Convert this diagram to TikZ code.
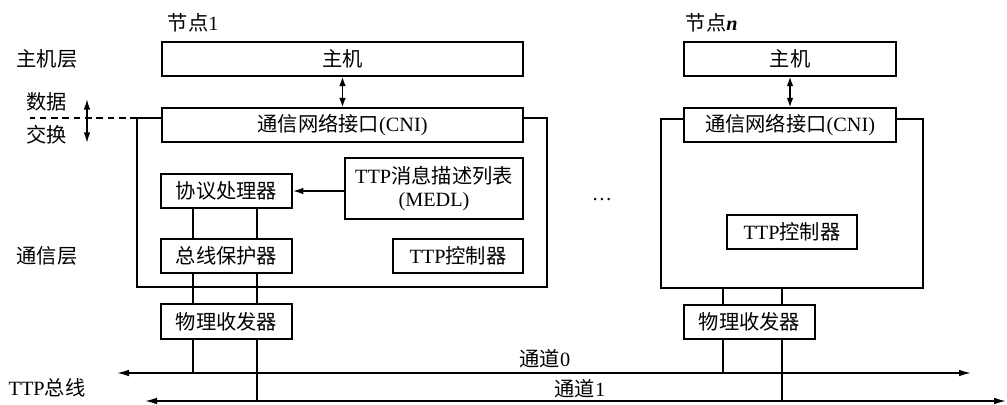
\documentclass[tikz,border=0pt]{standalone}
\usepackage{fontspec}
\setmainfont{Liberation Serif}
\newfontfamily\cjk{Noto Sans CJK SC}
\usetikzlibrary{arrows.meta,fit}
\begin{document}
\begin{tikzpicture}[x=0.75pt,y=-0.75pt,
  line width=1.15pt,
  font=\fontsize{15.2}{18}\selectfont,
  box/.style={draw,inner sep=0pt,align=center},
  tip/.style={-{Latex[length=8pt,width=5pt]}},
  dtip/.style={{Latex[length=7pt,width=5pt]}-{Latex[length=7pt,width=5pt]}},
  xtip/.style={{Latex[length=8pt,width=5pt]}-{Latex[length=8pt,width=5pt]}},
  bustip/.style={{Latex[length=9pt,width=5pt]}-{Latex[length=9pt,width=5pt]}},
  lbl/.style={inner sep=0pt}]
\useasboundingbox (0,0) rectangle (1007,404);

% ---------- left labels ----------
\node[lbl] (lhost) at (47,59) {\cjk 主机层};
\node[lbl] (ldata) at (47,102) {\cjk 数据};
\node[lbl] (lexch) at (47,135) {\cjk 交换};
\node[lbl] (lcomm) at (47,256) {\cjk 通信层};
\node[lbl] (lbus) at (47,388) {TTP{\cjk 总线}};
\coordinate (dx1) at (87,99);
\coordinate (dx2) at (87,143);
\draw[xtip] (dx1) -- (dx2);

% ---------- node 1 ----------
\node[lbl,anchor=west] (t1) at (167,23) {{\cjk 节点}1};
\node[box,fit={(162,42) (523,76)}] (host1) {};
\node at (host1.center) {\cjk 主机};
\node[box,fit={(162,108) (523,142)}] (cni1) {};
\node at (cni1.center) {{\cjk 通信网络接口}(CNI)};
\node[box,fit={(161,174) (292,208)}] (proto) {};
\node at (proto.center) {\cjk 协议处理器};
\node[box,fit={(345,158) (523,219)}] (medl) {};
\node[align=center,inner sep=0pt] at (medl.center) {TTP{\cjk 消息描述列表}\\[-1pt](MEDL)};
\node[box,fit={(161,239) (292,273)}] (guard) {};
\node at (guard.center) {\cjk 总线保护器};
\node[box,fit={(393,239) (523,273)}] (ttpc1) {};
\node at (ttpc1.center) {TTP{\cjk 控制器}};
\node[box,fit={(161,304) (292,339)}] (phy1) {};
\node at (phy1.center) {\cjk 物理收发器};

\coordinate (o1tl) at (137,118);
\coordinate (o1br) at (547,287);
\draw (o1tl -| cni1.west) -- (o1tl) |- (o1br) |- (o1tl -| cni1.east);
\coordinate (dl) at (30,118);
\draw[dashed,dash pattern=on 5pt off 3.5pt] (o1tl) -- (dl);

\draw[dtip] (host1.south) -- (cni1.north);
\draw[tip] (medl.west |- proto.east) -- (proto.east);

% ---------- node n ----------
\node[lbl,anchor=west] (tn) at (685,23) {{\cjk 节点}\textbf{\textit{n}}};
\node[box,fit={(684,42) (896,76)}] (hostn) {};
\node at (hostn.center) {\cjk 主机};
\node[box,fit={(684,108) (896,142)}] (cnin) {};
\node at (cnin.center) {{\cjk 通信网络接口}(CNI)};
\node[box,fit={(727,215) (857,249)}] (ttpcn) {};
\node at (ttpcn.center) {TTP{\cjk 控制器}};
\node[box,fit={(684,305) (815,339)}] (phyn) {};
\node at (phyn.center) {\cjk 物理收发器};

\coordinate (ontl) at (661,119);
\coordinate (onbr) at (923,288);
\draw (ontl -| cnin.west) -- (ontl) |- (onbr) |- (ontl -| cnin.east);
\draw[dtip] (hostn.south) -- (cnin.north);

\node[lbl] (dots) at (602,200) {…};

% ---------- bus ----------
\coordinate (c0l) at (117,373);
\coordinate (c0r) at (971,373);
\coordinate (c1l) at (145,401);
\coordinate (c1r) at (1006,401);
\draw[bustip] (c0l) -- (c0r);
\draw[bustip] (c1l) -- (c1r);
\node[lbl] (ch0) at (545,359) {{\cjk 通道}0};
\node[lbl] (ch1) at (580,389) {{\cjk 通道}1};

% ---------- vertical links node 1 ----------
\coordinate (a1) at (193,0);
\coordinate (b1) at (257,0);
\draw (proto.south -| a1) -- (guard.north -| a1);
\draw (proto.south -| b1) -- (guard.north -| b1);
\draw (guard.south -| a1) -- (phy1.north -| a1);
\draw (guard.south -| b1) -- (phy1.north -| b1);
\draw (phy1.south -| a1) -- (c0l -| a1);
\draw (phy1.south -| b1) -- (c1l -| b1);

% ---------- vertical links node n ----------
\coordinate (an) at (723,0);
\coordinate (bn) at (782,0);
\draw (onbr -| an) -- (phyn.north -| an);
\draw (onbr -| bn) -- (phyn.north -| bn);
\draw (phyn.south -| an) -- (c0l -| an);
\draw (phyn.south -| bn) -- (c1l -| bn);
\end{tikzpicture}
\end{document}
